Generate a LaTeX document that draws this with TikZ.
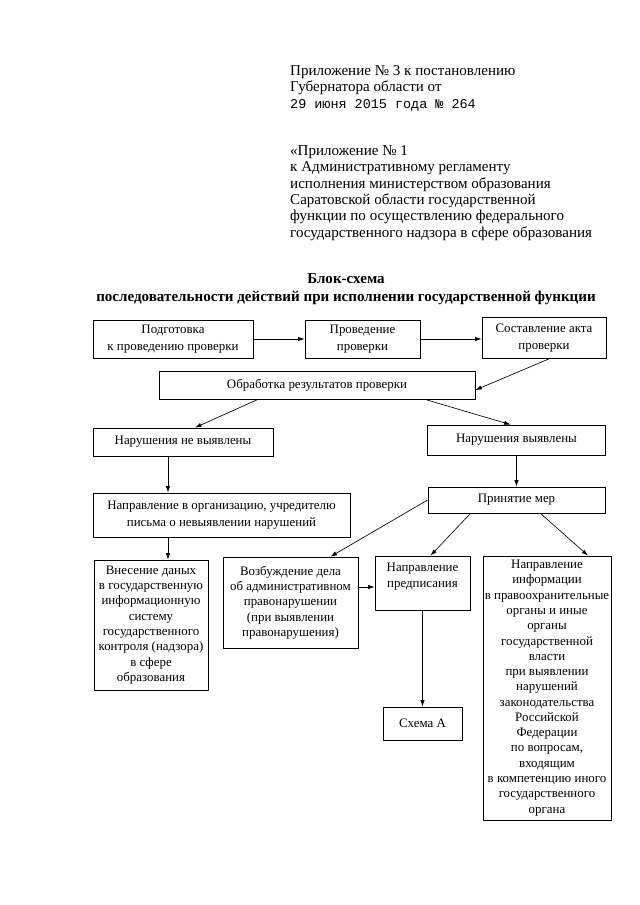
\documentclass[tikz,border=0pt]{standalone}
\usepackage{fontspec}
\setmainfont{Liberation Serif}
\newfontfamily\monofont{Liberation Mono}
\usetikzlibrary{calc,arrows.meta}
\def\pxu{0.93pt}
\tikzset{
  box/.style={draw=black, line width=0.7pt, align=center, inner sep=0pt, font=\fontsize{12}{14.2}\selectfont},
  wide/.style={font=\fontsize{12}{16}\selectfont},
  sz/.style 2 args={minimum width=#1*\pxu, minimum height=#2*\pxu},
  arr/.style={draw=black, line width=0.6pt, -{Latex[length=6pt,width=4pt]}},
  head/.style={align=left, anchor=north west, inner sep=0pt, font=\fontsize{14}{15.3}\selectfont},
  ttl/.style={align=center, inner sep=0pt, font=\bfseries\fontsize{14}{16.7}\selectfont},
}

\begin{document}
\begin{tikzpicture}[x=0.93pt, y=-0.93pt]
  \useasboundingbox (0,0) rectangle (640,905);
  \node[head] (app3) at (290,65) {Приложение № 3 к постановлению\\Губернатора области от\\{\monofont\fontsize{12.5}{15.3}\selectfont 29 июня 2015 года № 264}};
  \node[head] (app1) at (290,145) {«Приложение № 1\\к Административному регламенту\\исполнения министерством образования\\Саратовской области государственной\\функции по осуществлению федерального\\государственного надзора в сфере образования};
  \node[ttl] (title) at (346,289) {Блок-схема\\последовательности действий при исполнении государственной функции};
  % boxes
  \node[box, wide, sz={160}{38}] (prep) at (173,339) {Подготовка\\к проведению проверки};
  \node[box, wide, sz={115}{38}] (cond) at (362.5,339) {Проведение\\проверки};
  \node[box, wide, sz={124}{41}] (act) at (544,338) {Составление акта\\проверки};
  \node[box, sz={316}{28}] (proc) at (317,385) {Обработка результатов проверки};
  \node[box, sz={180}{28}] (nonv) at (183,442) {Нарушения не выявлены};
  \node[box, sz={178}{30}] (viol) at (516.5,440) {Нарушения выявлены};
  \node[box, wide, sz={257}{44}] (letter) at (221.5,515) {Направление в организацию, учредителю\\письма о невыявлении нарушений};
  \node[box, sz={177}{26}] (meas) at (516.5,500) {Принятие мер};
  \node[box, sz={114}{130}] (data) at (151,625) {Внесение даных\\в государственную\\информационную\\систему\\государственного\\контроля (надзора)\\в сфере\\образования};
  \node[box, sz={135}{91}] (case) at (290.5,602.5) {Возбуждение дела\\об административном\\правонарушении\\(при выявлении\\правонарушения)};
  \node[box, sz={95}{54}] (order) at (422.5,583) {Направление\\предписания\\\mbox{}};
  \node[box, sz={128}{264}] (info) at (547,688) {Направление\\информации\\в правоохранительные\\органы и иные\\органы\\государственной\\власти\\при выявлении\\нарушений\\законодательства\\Российской\\Федерации\\по вопросам,\\входящим\\в компетенцию иного\\государственного\\органа};
  \node[box, sz={79}{33}] (schA) at (422.5,723.5) {Схема А};
  % arrows
  \coordinate (lft) at (168,0);
  \coordinate (mid) at (0,587);
  \draw[arr] (prep) -- (cond);
  \draw[arr] (cond) -- (act.west |- cond.east);
  \draw[arr] ($(act.south)+(5,0)$) -- ($(proc.east)+(0,5)$);
  \draw[arr] ($(proc.south)+(-59,0)$) -- ($(nonv.north)+(12,0)$);
  \draw[arr] ($(proc.south)+(108,0)$) -- ($(viol.north)+(-6,0)$);
  \draw[arr] (nonv.south -| lft) -- (letter.north -| lft);
  \draw[arr] (viol) -- (meas);
  \draw[arr] (letter.south -| lft) -- (data.north -| lft);
  \draw[arr] (meas.west) -- ($(case.north)+(40,0)$);
  \draw[arr] ($(meas.south)+(-46,0)$) -- ($(order.north)+(8,0)$);
  \draw[arr] ($(meas.south)+(24,0)$) -- ($(info.north)+(41,0)$);
  \draw[arr] (case.east |- mid) -- (order.west |- mid);
  \draw[arr] (order) -- (schA);
\end{tikzpicture}
\end{document}
